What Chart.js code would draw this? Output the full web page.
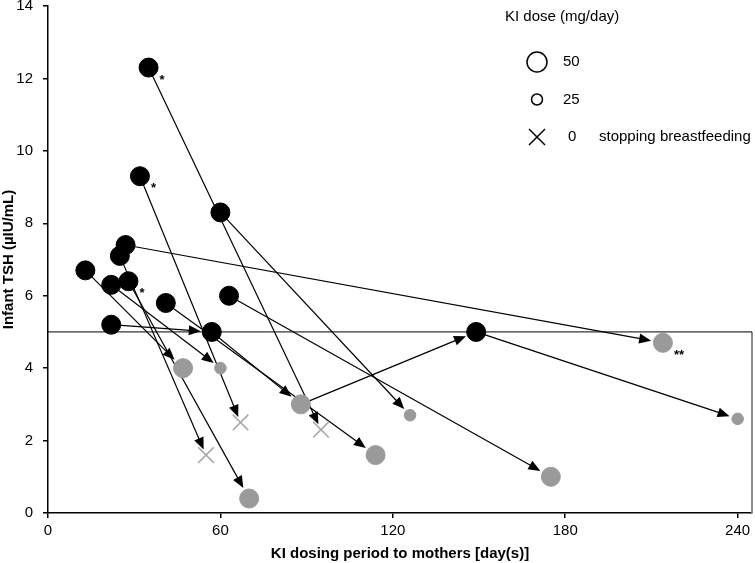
<!DOCTYPE html>
<html>
<head>
<meta charset="utf-8">
<script src="https://cdn.jsdelivr.net/npm/chart.js@4.4.1/dist/chart.umd.min.js"></script>
<style>
  body { margin: 0; background: #fff; }
  canvas { display: block; }
</style>
</head>
<body>
<canvas id="graphique" width="755" height="563"></canvas>
<script>
// infant TSH before KI dosing stop (black) and after (gray)
const blackDay = [35, 32, 60, 27, 25, 13, 22, 28, 41, 63, 22, 57, 149];
const blackTSH = [12.3, 9.3, 8.3, 7.4, 7.1, 6.7, 6.3, 6.4, 5.8, 6.0, 5.2, 5.0, 5.0];
const blackNote = ['*', '*', '', '', '', '', '', '*', '', '', '', '', ''];

const grayDay = [47, 60, 55, 67, 70, 88, 95, 114, 126, 175, 240, 214];
const grayTSH = [4.0, 4.0, 1.6, 2.5, 0.4, 3.0, 2.3, 1.6, 2.7, 1.0, 2.6, 4.7];
const grayDose = [50, 25, 0, 0, 50, 50, 0, 50, 25, 50, 25, 50];
const grayNote = ['', '', '', '', '', '', '', '', '', '', '', '**'];

// arrows: indices into black points (0-12) then gray points (13-24)
const arrowFrom = [0, 1, 2, 3, 4, 5, 6, 7, 8, 9, 10, 11, 12, 18];
const arrowTo = [19, 16, 21, 24, 15, 13, 14, 17, 20, 22, 11, 18, 23, 12];

const cutoffTSH = 5;
const xMax = 245;
const xTicks = [0, 60, 120, 180, 240];

const legendTitle = 'KI dose (mg/day)';
const legendDose = [50, 25, 0];
const legendNote = 'stopping breastfeeding';

const FONT = 'Arial, "Liberation Sans", sans-serif';
const GRAY = '#9a9a9a';
const radiusForDose = {50: 9.5, 25: 5.8, 0: 11};
const gapForDose = {50: 12, 25: 8.5, 0: 6};

const points = [];
blackDay.forEach((d, i) => points.push({x: d, y: blackTSH[i], gap: 11, note: blackNote[i]}));
grayDay.forEach((d, i) => points.push({x: d, y: grayTSH[i], gap: gapForDose[grayDose[i]], note: grayNote[i]}));

function grayPoints(dose) {
  const out = [];
  grayDay.forEach((d, i) => { if (grayDose[i] === dose) out.push({x: d, y: grayTSH[i]}); });
  return out;
}

const arrowPlugin = {
  id: 'arrows',
  beforeDatasetsDraw(chart) {
    const {ctx, scales: {x, y}} = chart;
    ctx.save();
    ctx.strokeStyle = '#000';
    ctx.fillStyle = '#000';
    ctx.lineWidth = 1.2;
    arrowFrom.forEach((f, i) => {
      const a = points[f], b = points[arrowTo[i]];
      const x1 = x.getPixelForValue(a.x), y1 = y.getPixelForValue(a.y);
      const x2 = x.getPixelForValue(b.x), y2 = y.getPixelForValue(b.y);
      const len = Math.hypot(x2 - x1, y2 - y1);
      const ux = (x2 - x1) / len, uy = (y2 - y1) / len;
      const tipX = x2 - ux * b.gap, tipY = y2 - uy * b.gap;
      const head = 12, half = 5;
      const bx = tipX - ux * head, by = tipY - uy * head;
      ctx.beginPath();
      ctx.moveTo(x1, y1);
      ctx.lineTo(bx + ux, by + uy);
      ctx.stroke();
      ctx.beginPath();
      ctx.moveTo(tipX, tipY);
      ctx.lineTo(bx - uy * half, by + ux * half);
      ctx.lineTo(bx + uy * half, by - ux * half);
      ctx.closePath();
      ctx.fill();
    });
    ctx.restore();
  },
  afterDatasetsDraw(chart) {
    const {ctx, chartArea, scales: {x, y}} = chart;
    ctx.save();
    // asterisks
    ctx.fillStyle = '#000';
    ctx.font = 'bold 13px ' + FONT;
    ctx.textAlign = 'left';
    ctx.textBaseline = 'alphabetic';
    points.forEach(p => {
      if (!p.note) return;
      ctx.fillText(p.note, x.getPixelForValue(p.x) + 11, y.getPixelForValue(p.y) + 16);
    });
    // legend
    const lx = chartArea.left + 457, ly = chartArea.top;
    ctx.font = '15px ' + FONT;
    ctx.textBaseline = 'middle';
    ctx.fillText(legendTitle, lx, ly + 11);
    ctx.strokeStyle = '#000';
    ctx.lineWidth = 1.5;
    legendDose.forEach((dose, i) => {
      const cy = ly + 56 + i * 37.5;
      const cx = lx + 32;
      ctx.beginPath();
      if (dose === 0) {
        ctx.moveTo(cx - 8, cy - 8); ctx.lineTo(cx + 8, cy + 8);
        ctx.moveTo(cx + 8, cy - 8); ctx.lineTo(cx - 8, cy + 8);
        ctx.stroke();
        ctx.fillText(String(dose), lx + 63, cy);
        ctx.fillText(legendNote, lx + 94, cy);
      } else {
        ctx.arc(cx, cy, dose === 50 ? 10 : 5.5, 0, Math.PI * 2);
        ctx.stroke();
        ctx.fillText(String(dose), lx + 58, cy);
      }
    });
    ctx.restore();
  }
};

const ctx = document.getElementById('graphique').getContext('2d');
new Chart(ctx, {
  type: 'scatter',
  data: {
    datasets: [
      {data: blackDay.map((d, i) => ({x: d, y: blackTSH[i]})), pointRadius: 9.5, pointBackgroundColor: '#000', pointBorderColor: '#000', pointBorderWidth: 1, clip: false},
      {data: grayPoints(50), pointRadius: radiusForDose[50], pointBackgroundColor: GRAY, pointBorderColor: GRAY, pointBorderWidth: 1, clip: false},
      {data: grayPoints(25), pointRadius: radiusForDose[25], pointBackgroundColor: GRAY, pointBorderColor: GRAY, pointBorderWidth: 1, clip: false},
      {data: grayPoints(0), pointStyle: 'crossRot', pointRadius: radiusForDose[0], pointBorderColor: '#a8a8a8', pointBorderWidth: 1.6, clip: false},
      {data: [{x: 0, y: cutoffTSH}, {x: xMax, y: cutoffTSH}], showLine: true, borderColor: '#000', borderWidth: 1, pointRadius: 0, clip: false},
      {data: [{x: xMax, y: cutoffTSH}, {x: xMax, y: 0}], showLine: true, borderColor: '#8a8a8a', borderWidth: 2, pointRadius: 0, clip: false}
    ]
  },
  options: {
    responsive: false,
    animation: false,
    events: [],
    layout: {autoPadding: false, padding: {top: 6, right: 3, left: 0, bottom: 0}},
    plugins: {legend: {display: false}, tooltip: {enabled: false}},
    scales: {
      x: {
        type: 'linear', min: 0, max: xMax,
        afterBuildTicks: s => { s.ticks = xTicks.map(v => ({value: v})); },
        afterFit: s => { s.height = 50; s.paddingLeft = 0; s.paddingRight = 0; },
        ticks: {color: '#000', font: {family: FONT, size: 15}, padding: 4, maxRotation: 0},
        grid: {drawOnChartArea: false, drawTicks: true, tickLength: 5, color: '#000', lineWidth: 1.5},
        border: {color: '#000', width: 1.5},
        title: {display: true, text: 'KI dosing period to mothers [day(s)]', color: '#000', font: {family: FONT, size: 15, weight: 'bold'}, padding: {top: 0, bottom: 0}}
      },
      y: {
        min: 0, max: 14,
        afterFit: s => { s.width = 48; s.paddingTop = 0; s.paddingBottom = 0; },
        ticks: {stepSize: 2, color: '#000', font: {family: FONT, size: 15}, padding: 10},
        grid: {drawOnChartArea: false, drawTicks: true, tickLength: 5, color: '#000', lineWidth: 1.5},
        border: {color: '#000', width: 1.5},
        title: {display: true, text: 'Infant TSH (µIU/mL)', color: '#000', font: {family: FONT, size: 15, weight: 'bold'}, padding: {top: 0, bottom: 0}}
      }
    }
  },
  plugins: [arrowPlugin]
});
</script>
</body>
</html>
